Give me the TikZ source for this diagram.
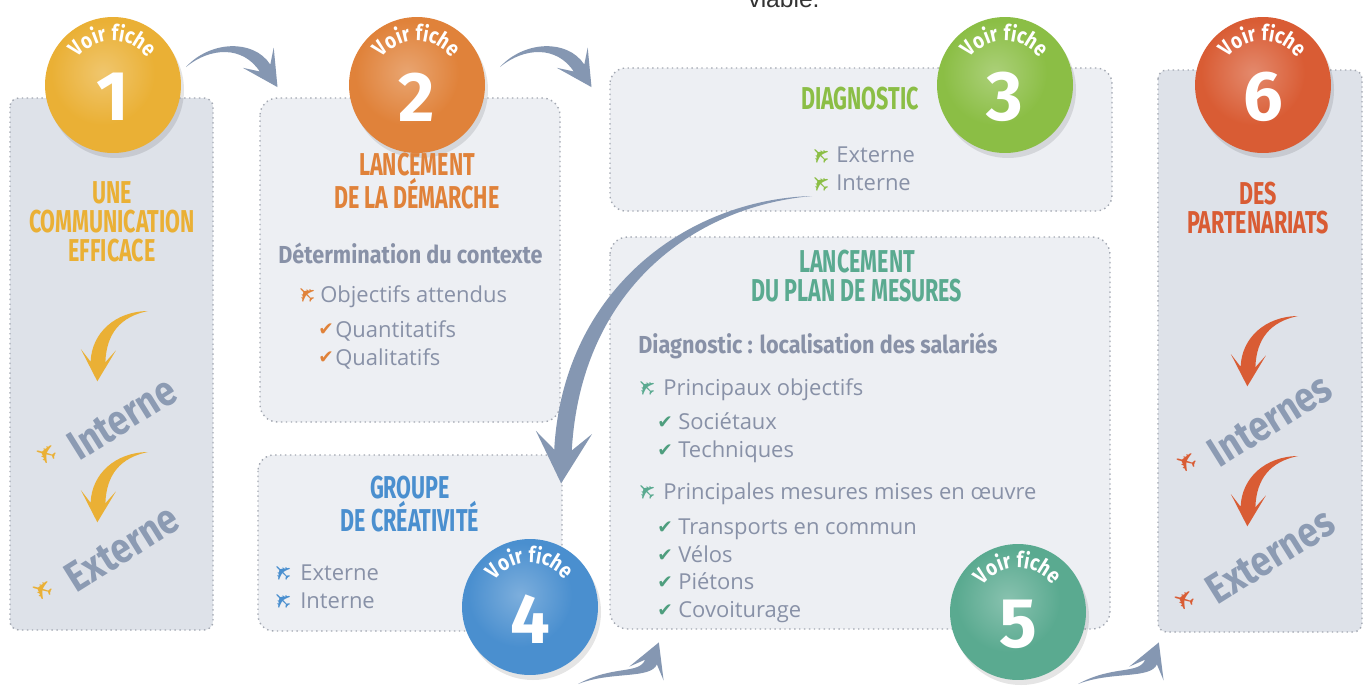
\documentclass[tikz,border=0pt]{standalone}
\usepackage{fontspec}
\setmainfont{Open Sans}
\newfontfamily\ttlfont[FakeStretch=0.68]{Fira Sans}
\newfontfamily\subfont[FakeStretch=0.88]{Fira Sans}
\newfontfamily\bigfont[FakeStretch=0.85]{Fira Sans}
\newfontfamily\numfont{Fira Sans}
\newfontfamily\symfont{DejaVu Sans}
\newfontfamily\topfont{Liberation Sans}
\usetikzlibrary{calc,decorations.text}
\definecolor{cA}{HTML}{EAB035}
\definecolor{cB}{HTML}{E0823A}
\definecolor{cC}{HTML}{8BBE45}
\definecolor{cD}{HTML}{4A8FCF}
\definecolor{cE}{HTML}{5AAA90}
\definecolor{cF}{HTML}{D95C34}
\definecolor{pdark}{HTML}{DEE2E9}
\definecolor{plight}{HTML}{EDEFF3}
\definecolor{bordc}{HTML}{A3A8B2}
\definecolor{bodyc}{HTML}{8891A7}
\definecolor{bigc}{HTML}{8C9BB3}
\definecolor{arrc}{HTML}{8597B2}
\definecolor{chkE}{HTML}{4E9E7E}
\newcommand\voirfnt{\bigfont\bfseries\fontsize{12.5}{12.5}\selectfont}
% #1 P0, #2 C1, #3 C2, #4 P3, #5 half width, #6 wing, #7 tip length, #8 wing back, #9 colour
\newcommand\taperarrow[9]{%
  \pgfmathsetlengthmacro\tah{0.5*#5}%
  \coordinate (ta-b) at ($(#4)!#8!(#3)$);
  \coordinate (ta-t) at ($(#4)!-#7!(#3)$);
  \fill[#9] (#1)
    .. controls ($(#2)!\tah!90:(#3)$) and ($(#3)!#5!90:(#4)$) .. ($(#4)!#5!-90:(#3)$)
    -- ($(ta-b)!#6!90:(#4)$) -- (ta-t) -- ($(ta-b)!#6!-90:(#4)$)
    -- ($(#4)!#5!90:(#3)$)
    .. controls ($(#3)!#5!-90:(#4)$) and ($(#2)!\tah!-90:(#3)$) .. (#1) -- cycle;
}
% #1 name, #2 centre, #3 colour, #4 number
\newcommand\fiche[4]{%
  \fill[black, opacity=0.10] ($(#2)+(3,5)$) circle[radius=68];
  \node[circle, minimum size=2.72cm, inner sep=0pt, fill=#3] (#1) at (#2) {};
  \shade[inner color=#3!72!white, outer color=#3] ($(#1)+(-10,-12)$) circle[radius=52];
  \path[decorate, decoration={text along path, text align=center, text color=white,
      text={|\voirfnt|Voir fiche}}]
      ($(#1)+(200:44)$) arc[start angle=200, end angle=340, radius=44];
  \node[font=\numfont\bfseries\fontsize{40}{40}\selectfont, text=white, inner sep=0pt] (#1-n) at ($(#1)+(0,12)$) {#4};
}
\begin{document}
\begin{tikzpicture}[x=0.02cm, y=-0.02cm,
  panel/.style={draw=bordc, dotted, line width=0.8pt},
  ttl/.style={font=\ttlfont\bfseries\fontsize{18}{16.5}\selectfont, align=center},
  sub/.style={font=\subfont\bfseries\fontsize{14}{15}\selectfont, text=bodyc, anchor=base west, inner sep=0pt},
  body/.style={font=\fontsize{12.5}{14}\selectfont, text=bodyc, anchor=base west, inner sep=0pt},
  bird/.style={font=\symfont\fontsize{13}{13}\selectfont, rotate=135, inner sep=0pt},
  chk/.style={font=\symfont\fontsize{10.5}{10.5}\selectfont, inner sep=0pt},
  big/.style={font=\bigfont\bfseries\fontsize{24}{24}\selectfont, text=bigc, rotate=32, inner sep=0pt},
  bigbird/.style={font=\symfont\fontsize{15}{15}\selectfont, rotate=165, inner sep=0pt},
]
\useasboundingbox (0,0) rectangle (1369,687);
\fill[white] (0,0) rectangle (1369,687);
\node[font=\topfont\fontsize{14}{14}\selectfont, text=black!80, anchor=base] (top) at (784,7) {viable.};

% panels
\draw[panel, fill=pdark, rounded corners=5pt] (10,98) rectangle (213,630);
\draw[panel, fill=plight, rounded corners=10pt] (260,98) rectangle (560,422);
\draw[panel, fill=plight, rounded corners=9pt] (610,68) rectangle (1112,211);
\draw[panel, fill=plight, rounded corners=9pt] (258,455) rectangle (562,631);
\draw[panel, fill=plight, rounded corners=10pt] (610,237) rectangle (1110,629);
\draw[panel, fill=pdark, rounded corners=5pt] (1158,70) rectangle (1362,632);

% blue arrows between steps
\coordinate (a1p0) at (186,67); \coordinate (a1c1) at (210,44);
\coordinate (a1c2) at (248,42); \coordinate (a1p3) at (265,68);
\taperarrow{a1p0}{a1c1}{a1c2}{a1p3}{3.6pt}{10.5pt}{13pt}{7pt}{arrc}
\coordinate (a2p0) at (500,67); \coordinate (a2c1) at (524,44);
\coordinate (a2c2) at (562,42); \coordinate (a2p3) at (579,68);
\taperarrow{a2p0}{a2c1}{a2c2}{a2p3}{3.6pt}{10.5pt}{13pt}{7pt}{arrc}
\coordinate (a3p0) at (812,196); \coordinate (a3c1) at (690,203);
\coordinate (a3c2) at (572,290); \coordinate (a3p3) at (563,450);
\taperarrow{a3p0}{a3c1}{a3c2}{a3p3}{5pt}{16pt}{19pt}{10pt}{arrc}
\coordinate (a4p0) at (578,684); \coordinate (a4c1) at (612,668);
\coordinate (a4c2) at (645,677); \coordinate (a4p3) at (651,662);
\taperarrow{a4p0}{a4c1}{a4c2}{a4p3}{3.6pt}{10.5pt}{12pt}{7pt}{arrc}
\coordinate (a5p0) at (1078,684); \coordinate (a5c1) at (1112,668);
\coordinate (a5c2) at (1145,677); \coordinate (a5p3) at (1151,662);
\taperarrow{a5p0}{a5c1}{a5c2}{a5p3}{3.6pt}{10.5pt}{12pt}{7pt}{arrc}

% swooshes
\coordinate (s1p0) at (148,311); \coordinate (s1c1) at (118,314);
\coordinate (s1c2) at (99,333); \coordinate (s1p3) at (98,362);
\taperarrow{s1p0}{s1c1}{s1c2}{s1p3}{4.2pt}{10pt}{11pt}{7pt}{cA}
\coordinate (s2p0) at (148,452); \coordinate (s2c1) at (118,455);
\coordinate (s2c2) at (99,474); \coordinate (s2p3) at (98,503);
\taperarrow{s2p0}{s2c1}{s2c2}{s2p3}{4.2pt}{10pt}{11pt}{7pt}{cA}
\coordinate (s3p0) at (1298,316); \coordinate (s3c1) at (1268,319);
\coordinate (s3c2) at (1249,338); \coordinate (s3p3) at (1248,367);
\taperarrow{s3p0}{s3c1}{s3c2}{s3p3}{4.2pt}{10pt}{11pt}{7pt}{cF}
\coordinate (s4p0) at (1298,456); \coordinate (s4c1) at (1268,459);
\coordinate (s4c2) at (1249,478); \coordinate (s4p3) at (1248,507);
\taperarrow{s4p0}{s4c1}{s4c2}{s4p3}{4.2pt}{10pt}{11pt}{7pt}{cF}

% circles
\fiche{c1}{113,85}{cA}{1}
\fiche{c2}{417,85}{cB}{2}
\fiche{c3}{1005,85}{cC}{3}
\fiche{c4}{530,607}{cD}{4}
\fiche{c5}{1018,612}{cE}{5}
\fiche{c6}{1263,85}{cF}{6}

% panel 1
\node[ttl, text=cA] (t1) at (112,222) {UNE\\COMMUNICATION\\EFFICACE};
\node[big] (i1) at (122,418) {Interne};
\node[bigbird, text=cA] (b1) at (46,454) {✈};
\node[big] (e1) at (122,548) {Externe};
\node[bigbird, text=cA] (b2) at (42,590) {✈};

% panel 2
\node[ttl, text=cB] (t2) at (417,181) {LANCEMENT\\DE LA DÉMARCHE};
\node[sub] (d2) at (278,263) {Détermination du contexte};
\node[bird, text=cB] (b3) at (307,294) {✈};
\node[body] (o2) at (320,302) {Objectifs attendus};
\node[chk, text=cB] (k1) at (326,330) {✔};
\node[body] (q1) at (335,337) {Quantitatifs};
\node[chk, text=cB] (k2) at (326,358) {✔};
\node[body] (q2) at (335,365) {Qualitatifs};

% panel 3
\node[ttl, text=cC] (t3) at (860,99) {DIAGNOSTIC};
\node[bird, text=cC] (b4) at (821,155) {✈};
\node[body] (x3) at (836,162) {Externe};
\node[bird, text=cC] (b5) at (821,183) {✈};
\node[body] (n3) at (836,190) {Interne};

% panel 4
\node[ttl, text=cD] (t4) at (410,504) {GROUPE\\DE CRÉATIVITÉ};
\node[bird, text=cD] (b6) at (283,572) {✈};
\node[body] (x4) at (300,580) {Externe};
\node[bird, text=cD] (b7) at (283,600) {✈};
\node[body] (n4) at (300,608) {Interne};

% panel 5
\node[ttl, text=cE] (t5) at (857,276) {LANCEMENT\\DU PLAN DE MESURES};
\node[sub] (d5) at (638,353) {Diagnostic : localisation des salariés};
\node[bird, text=cE] (b8) at (647,387) {✈};
\node[body] (o5) at (663,395) {Principaux objectifs};
\node[chk, text=chkE] (k3) at (665,423) {✔};
\node[body] (l1) at (678,429) {Sociétaux};
\node[chk, text=chkE] (k4) at (665,451) {✔};
\node[body] (l2) at (678,457) {Techniques};
\node[bird, text=cE] (b9) at (647,491) {✈};
\node[body] (m5) at (663,499) {Principales mesures mises en œuvre};
\node[chk, text=chkE] (k5) at (665,528) {✔};
\node[body] (l3) at (678,534) {Transports en commun};
\node[chk, text=chkE] (k6) at (665,556) {✔};
\node[body] (l4) at (678,562) {Vélos};
\node[chk, text=chkE] (k7) at (665,583) {✔};
\node[body] (l5) at (678,589) {Piétons};
\node[chk, text=chkE] (k8) at (665,611) {✔};
\node[body] (l6) at (678,617) {Covoiturage};

% panel 6
\node[ttl, text=cF] (t6) at (1258,208) {DES\\PARTENARIATS};
\node[big] (i6) at (1270,420) {Internes};
\node[bigbird, text=cF] (b10) at (1186,462) {✈};
\node[big] (e6) at (1270,556) {Externes};
\node[bigbird, text=cF] (b11) at (1184,600) {✈};
\end{tikzpicture}
\end{document}
